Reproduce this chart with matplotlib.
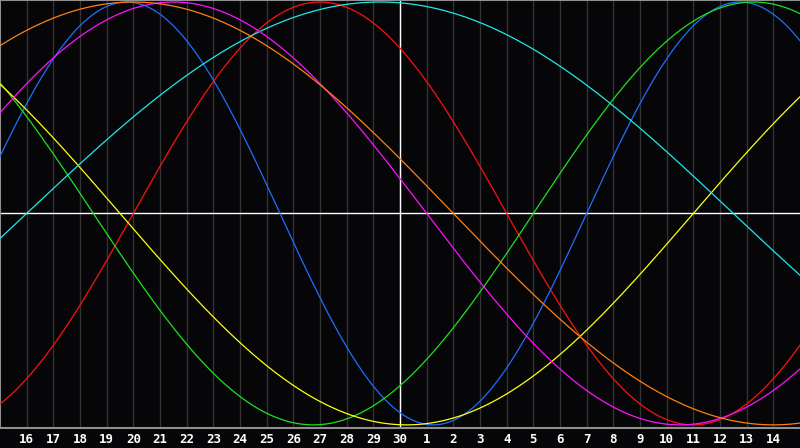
import numpy as np
import matplotlib
matplotlib.use("Agg")
import matplotlib.pyplot as plt

# biorhythm cycles: period (days) and day-in-cycle at left edge of chart
cycles = ["emotional", "physical", "intellectual", "aesthetic", "spiritual", "intuitive", "awareness"]
periods = [28, 23, 33, 43, 53, 38, 48]
phases = [23, 1, 13, 17, 52, 3, 7]
colors = ["#ff1010", "#1e6eff", "#20e020", "#ffff10", "#20e8e8", "#ff10ff", "#ff8010"]

# day labels along the bottom (positions 1..29), today = 30
day_labels = [str(d) for d in range(16, 31)] + [str(d) for d in range(1, 15)]
n_days = 30
today = 15

fig = plt.figure(figsize=(8, 4.48), dpi=100, facecolor="#060608")
ax = fig.add_axes([0, 0.045, 1, 0.955], facecolor="#060608")

t = np.linspace(0, n_days, 1200)
for name, p, ph, c in zip(cycles, periods, phases, colors):
    ax.plot(t, np.sin(2 * np.pi * (t + ph) / p), color=c, lw=0.9, zorder=3)

for i in range(1, n_days):
    ax.axvline(i, color="#333333", lw=1.0, zorder=1)
ax.axvline(today, color="white", lw=1.0, zorder=2)
ax.axhline(0, color="white", lw=1.0, zorder=2)

ax.set_xlim(0, n_days)
ax.set_ylim(-1.014, 1.0095)
ax.set_yticks([])
ax.set_xticks(range(1, n_days))
ax.set_xticklabels(day_labels, color="white", fontsize=9, fontweight="bold",
                   family="DejaVu Sans Mono")
ax.tick_params(axis="x", length=0, pad=4)
for s in ax.spines.values():
    s.set_color("#909090")
    s.set_linewidth(1.5)
ax.spines["right"].set_visible(False)

fig.savefig("out.png", dpi=100, facecolor=fig.get_facecolor())
